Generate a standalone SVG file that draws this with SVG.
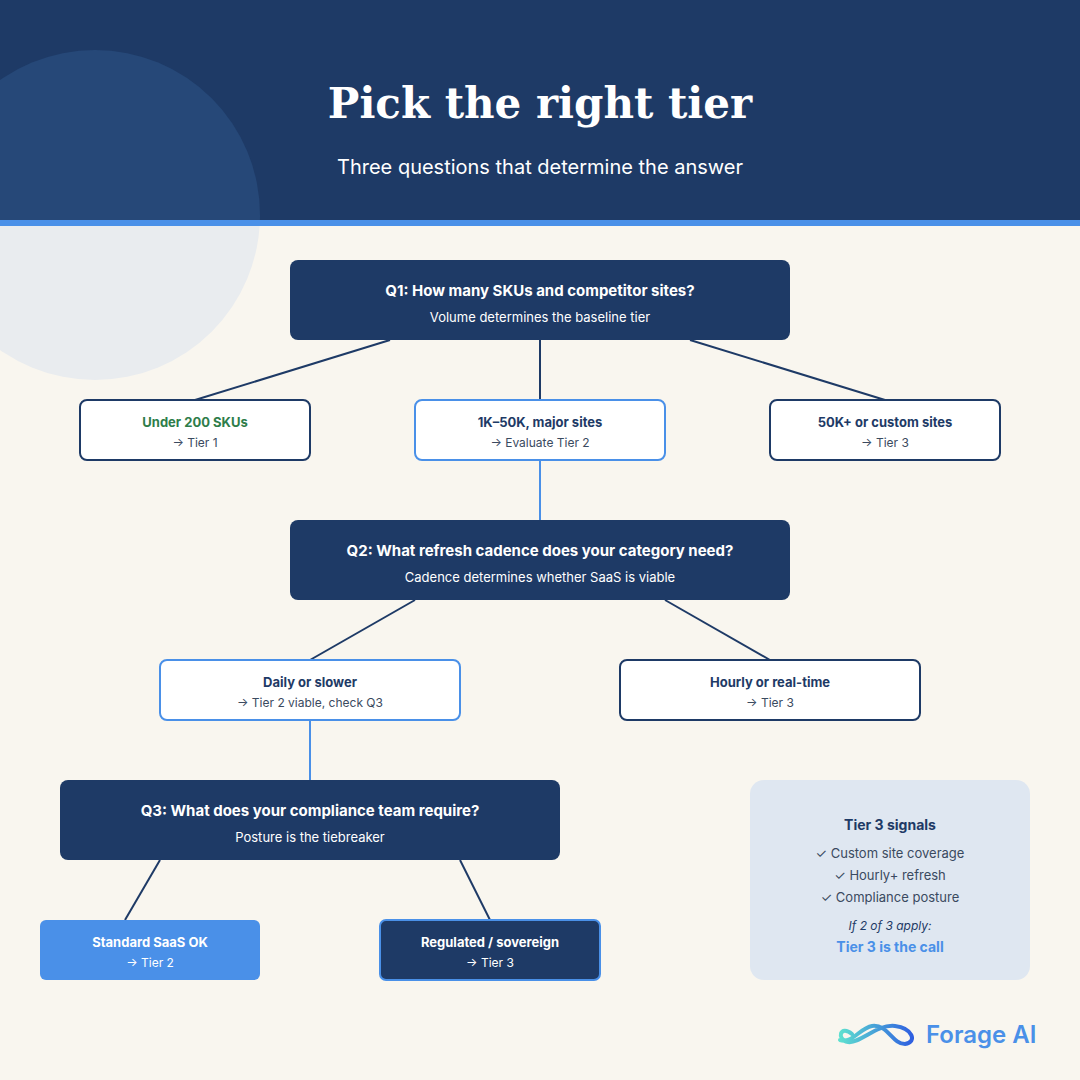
<svg xmlns="http://www.w3.org/2000/svg" width="1080" height="1080" viewBox="0 0 1080 1080">
<defs>
<style>
.t{font-family:Inter,"Liberation Sans",sans-serif;text-anchor:middle}
.dark{fill:#1e3a66}
.q{font-size:15px;font-weight:700;fill:#fff}
.qs{font-size:13px;fill:#fff}
.ob{fill:#fff;stroke:#1e3a66;stroke-width:2}
.obh{fill:#fff;stroke:#4a90e8;stroke-width:2}
.ot{font-size:13px;font-weight:700;fill:#1e3a66}
.os{font-size:12px;fill:#3a4a60}
.c{stroke:#1e3a66;stroke-width:2;fill:none}
.ch{stroke:#4a90e8;stroke-width:2;fill:none}
.sg{font-size:13px;fill:#3a4a60}
</style>
<linearGradient id="lg" x1="0" x2="1"><stop offset="0" stop-color="#5ee0d0"/><stop offset="1" stop-color="#2f5fe0"/></linearGradient>
<clipPath id="top"><rect width="1080" height="220"/></clipPath>
<clipPath id="bot"><rect y="226" width="1080" height="300"/></clipPath>
</defs>
<rect width="1080" height="1080" fill="#f9f6ef"/>
<rect width="1080" height="220" fill="#1e3a66"/>
<circle cx="95" cy="215" r="165" fill="#264878" clip-path="url(#top)"/>
<circle cx="95" cy="215" r="165" fill="#e9ecef" clip-path="url(#bot)"/>
<rect y="220" width="1080" height="6" fill="#4a90e8"/>
<text class="t" x="540" y="118" style="font-family:'DejaVu Serif','Liberation Serif',serif;font-size:42px;font-weight:700;fill:#fff">Pick the right tier</text>
<text class="t" x="540" y="174" style="font-size:20px;fill:#fff">Three questions that determine the answer</text>
<g id="connectors">
<line class="c" x1="390" y1="340" x2="195" y2="400"/>
<line class="c" x1="540" y1="340" x2="540" y2="400"/>
<line class="c" x1="690" y1="340" x2="885" y2="400"/>
<line class="ch" x1="540" y1="460" x2="540" y2="520"/>
<line class="c" x1="415" y1="600" x2="310" y2="660"/>
<line class="c" x1="665" y1="600" x2="770" y2="660"/>
<line class="ch" x1="310" y1="720" x2="310" y2="780"/>
<line class="c" x1="160" y1="860" x2="125" y2="920"/>
<line class="c" x1="460" y1="860" x2="490" y2="920"/>
</g>
<g id="q1"><rect class="dark" x="290" y="260" width="500" height="80" rx="8"/><text class="t q" x="540" y="296">Q1: How many SKUs and competitor sites?</text><text class="t qs" x="540" y="322">Volume determines the baseline tier</text></g>
<g id="o1"><rect class="ob" x="80" y="400" width="230" height="60" rx="7"/><text class="t ot" x="195" y="427" style="fill:#2e7d4a">Under 200 SKUs</text><text class="t os" x="195" y="447">→ Tier 1</text></g>
<g id="o2"><rect class="obh" x="415" y="400" width="250" height="60" rx="7"/><text class="t ot" x="540" y="427">1K–50K, major sites</text><text class="t os" x="540" y="447">→ Evaluate Tier 2</text></g>
<g id="o3"><rect class="ob" x="770" y="400" width="230" height="60" rx="7"/><text class="t ot" x="885" y="427">50K+ or custom sites</text><text class="t os" x="885" y="447">→ Tier 3</text></g>
<g id="q2"><rect class="dark" x="290" y="520" width="500" height="80" rx="8"/><text class="t q" x="540" y="556">Q2: What refresh cadence does your category need?</text><text class="t qs" x="540" y="582">Cadence determines whether SaaS is viable</text></g>
<g id="o4"><rect class="obh" x="160" y="660" width="300" height="60" rx="7"/><text class="t ot" x="310" y="687">Daily or slower</text><text class="t os" x="310" y="707">→ Tier 2 viable, check Q3</text></g>
<g id="o5"><rect class="ob" x="620" y="660" width="300" height="60" rx="7"/><text class="t ot" x="770" y="687">Hourly or real-time</text><text class="t os" x="770" y="707">→ Tier 3</text></g>
<g id="q3"><rect class="dark" x="60" y="780" width="500" height="80" rx="8"/><text class="t q" x="310" y="816">Q3: What does your compliance team require?</text><text class="t qs" x="310" y="842">Posture is the tiebreaker</text></g>
<g id="o6"><rect x="40" y="920" width="220" height="60" rx="6" fill="#4a90e8"/><text class="t ot" x="150" y="947" style="fill:#fff">Standard SaaS OK</text><text class="t os" x="150" y="967" style="fill:#fff">→ Tier 2</text></g>
<g id="o7"><rect x="380" y="920" width="220" height="60" rx="6" fill="#1e3a66" stroke="#4a90e8" stroke-width="2"/><text class="t ot" x="490" y="947" style="fill:#fff">Regulated / sovereign</text><text class="t os" x="490" y="967" style="fill:#fff">→ Tier 3</text></g>
<g id="signals"><rect x="750" y="780" width="280" height="200" rx="14" fill="#dfe7f1"/>
<text class="t" x="890" y="830" style="font-size:14px;font-weight:700;fill:#1e3a66">Tier 3 signals</text>
<text class="t sg" x="890" y="858">✓ Custom site coverage</text>
<text class="t sg" x="890" y="880">✓ Hourly+ refresh</text>
<text class="t sg" x="890" y="902">✓ Compliance posture</text>
<text class="t" x="890" y="930" style="font-size:12px;font-style:italic;fill:#1e3a66">If 2 of 3 apply:</text>
<text class="t" x="890" y="952" style="font-size:14px;font-weight:700;fill:#4a90e8">Tier 3 is the call</text></g>
<g id="logo"><path d="M852 1034 C840 1024 836 1040 848 1042 C860 1044 876 1024 895 1026 C912 1028 918 1042 905 1044 C892 1044 888 1024 872 1026 C860 1028 852 1044 840 1040" fill="none" stroke="url(#lg)" stroke-width="4" stroke-linecap="round"/>
<text x="926" y="1043" style="font-family:Inter,'Liberation Sans',sans-serif;font-size:24px;font-weight:600;fill:#4a90e8">Forage AI</text></g>
</svg>
